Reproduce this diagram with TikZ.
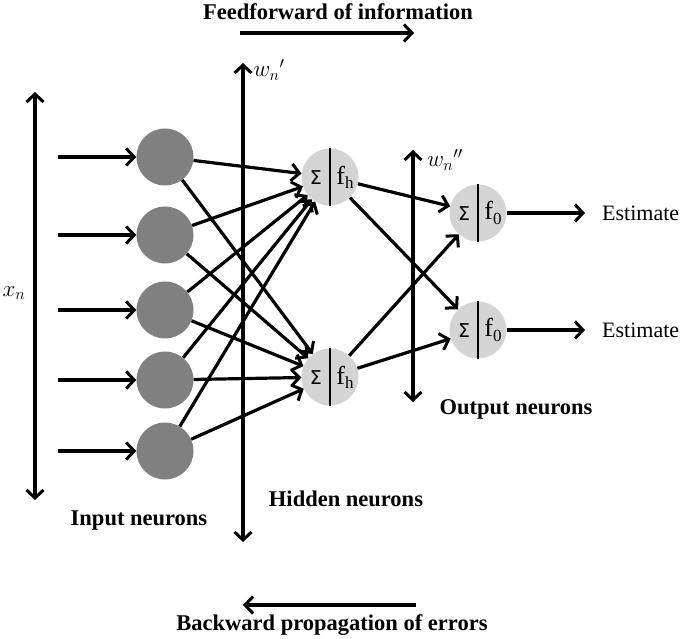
\documentclass[tikz,border=0pt]{standalone}
\usepackage{fix-cm}
\usepackage{fontspec}
\setmainfont{Liberation Serif}
\newfontfamily\sigfont{DejaVu Sans}
\usetikzlibrary{arrows.meta}
\begin{document}
\begin{tikzpicture}[x=1pt,y=-1pt,
  tip/.tip={Straight Barb[length=8pt,width=17pt,line width=3pt]},
  conn/.style={line width=3.2pt,-tip},
  dbl/.style={line width=3.2pt,tip-tip},
  inp/.style={circle,fill=black!50,minimum size=57pt,inner sep=0pt},
  neu/.style={circle,fill=black!17,minimum size=57pt,inner sep=0pt},
  lbl/.style={font=\fontsize{22.5}{24}\selectfont\bfseries,inner sep=0pt},
  est/.style={font=\fontsize{22}{24}\selectfont,inner sep=0pt,anchor=west},
  mth/.style={font=\fontsize{23}{25}\selectfont,inner sep=0pt},
  inner/.style={font=\fontsize{26}{28}\selectfont,inner sep=0pt}]
\useasboundingbox (0,0) rectangle (686,639);

% input neurons
\node[inp] (i1) at (165,157) {};
\node[inp] (i2) at (165,235) {};
\node[inp] (i3) at (165,310) {};
\node[inp] (i4) at (165,380) {};
\node[inp] (i5) at (165,451) {};
\foreach \k/\y in {1/157,2/235,3/310,4/380,5/451}{
  \coordinate (s\k) at (58,\y);
  \draw[conn] (s\k) -- (i\k);
}

% hidden neurons
\node[neu] (h1) at (330,177) {};
\node[neu] (h2) at (330,377) {};
% output neurons
\node[neu] (o1) at (478,213) {};
\node[neu] (o2) at (478,330) {};

\foreach \n/\sub in {h1/h,h2/h,o1/0,o2/0}{
  \draw[line width=1.6pt] (\n.north) -- (\n.south);
  \node[inner] (\n s) at ([xshift=-14pt,yshift=-1pt]\n.center) {\sigfont\fontsize{19}{21}\selectfont Σ};
  \node[inner] (\n f) at ([xshift=15pt]\n.center) {f\raisebox{-0.35ex}{\fontsize{17}{19}\selectfont\sub}};
}

% input -> hidden
\foreach \k in {1,...,5}{
  \draw[conn] (i\k) -- (h1);
  \draw[conn] (i\k) -- (h2);
}
% hidden -> output
\foreach \h in {h1,h2}{
  \draw[conn] (\h) -- (o1);
  \draw[conn] (\h) -- (o2);
}

% outputs
\coordinate (e1) at (585,213);
\coordinate (e2) at (585,330);
\draw[conn] (o1) -- (e1);
\draw[conn] (o2) -- (e2);
\node[est] (t1) at (602,213) {Estimate};
\node[est] (t2) at (602,330) {Estimate};

% vertical axes
\coordinate (xa) at (35,92);
\coordinate (xb) at (35,500);
\draw[dbl] (xa) -- (xb);
\node[mth] (xn) at (14,293) {$x_n$};

\coordinate (wa) at (243,63);
\coordinate (wb) at (243,542);
\draw[dbl] (wa) -- (wb);
\node[mth] (wn1) at (269,70) {$w_n{}'$};

\coordinate (va) at (413,150);
\coordinate (vb) at (413,402);
\draw[dbl] (va) -- (vb);
\node[mth] (wn2) at (445,160) {$w_n{}''$};

% top / bottom arrows and labels
\node[lbl] (ff) at (338,12) {Feedforward of information};
\coordinate (fa) at (240,33);
\coordinate (fb) at (414,33);
\draw[conn] (fa) -- (fb);

\coordinate (ba) at (416,605);
\coordinate (bb) at (243,605);
\draw[conn] (ba) -- (bb);
\node[lbl] (bp) at (332,625) {Backward propagation of errors};

\node[lbl] (il) at (139,521) {Input neurons};
\node[lbl] (hl) at (346,499) {Hidden neurons};
\node[lbl] (ol) at (516,409) {Output neurons};
\end{tikzpicture}
\end{document}
